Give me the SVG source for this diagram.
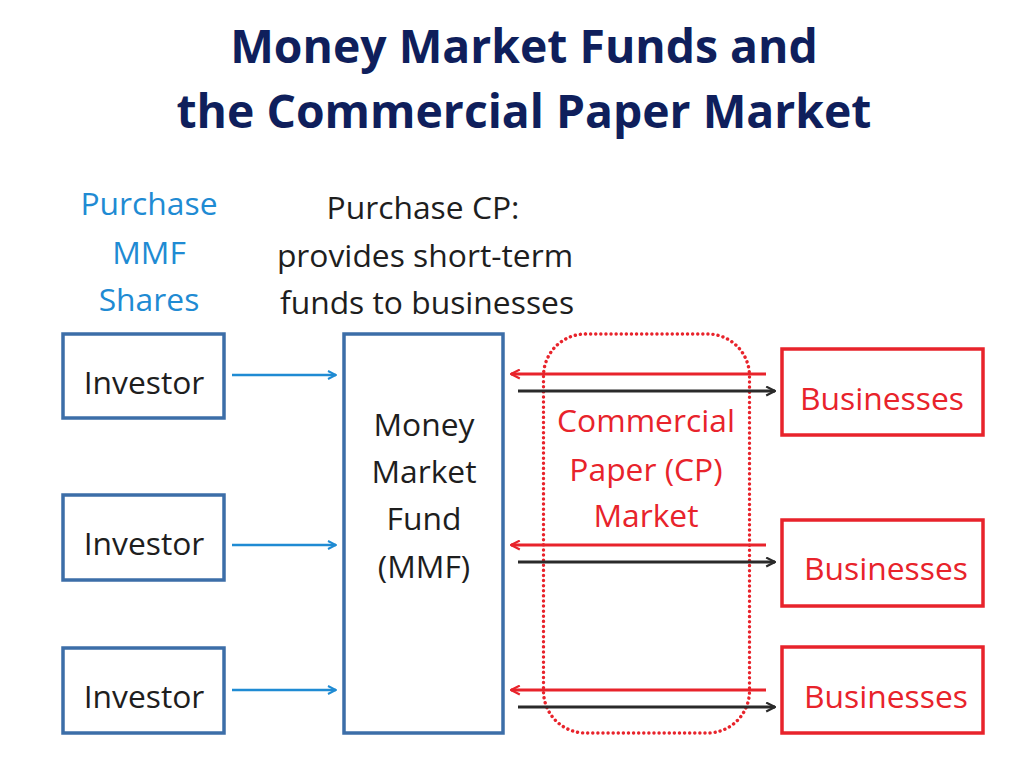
<svg xmlns="http://www.w3.org/2000/svg" width="1024" height="761" viewBox="0 0 1024 761">
<defs>
<style>
.title{font-family:"Open Sans","DejaVu Sans",sans-serif;font-weight:bold;font-size:46.3px;fill:#0f1f5c;text-anchor:middle}
.lbl{font-family:"Open Sans","DejaVu Sans",sans-serif;font-size:31.8px;text-anchor:middle}
.blue{fill:#1f8bd3}
.dark{fill:#1e1e1e}
.red{fill:#e8232b}
.bbox{fill:#fff;stroke:#3c6ea8;stroke-width:3.5}
.rbox{fill:#fff;stroke:#e8232b;stroke-width:3.5}
.barrow{stroke:#1f8bd3;stroke-width:2.5;fill:none}
.rarrow{stroke:#e8232b;stroke-width:2.8;fill:none}
.karrow{stroke:#2a2a2a;stroke-width:2.8;fill:none}
</style>
<marker id="mb" viewBox="0 0 10 10" refX="9" refY="5" markerWidth="10" markerHeight="10" markerUnits="userSpaceOnUse" orient="auto">
<path d="M1,1 L9,5 L1,9" fill="none" stroke="#1f8bd3" stroke-width="2"/>
</marker>
<marker id="mr" viewBox="0 0 10 10" refX="9" refY="5" markerWidth="11" markerHeight="11" markerUnits="userSpaceOnUse" orient="auto">
<path d="M1,1 L9,5 L1,9" fill="none" stroke="#e8232b" stroke-width="2"/>
</marker>
<marker id="mk" viewBox="0 0 10 10" refX="9" refY="5" markerWidth="11" markerHeight="11" markerUnits="userSpaceOnUse" orient="auto">
<path d="M1,1 L9,5 L1,9" fill="none" stroke="#2a2a2a" stroke-width="2"/>
</marker>
</defs>
<rect width="1024" height="761" fill="#fff"/>
<g id="title">
<text class="title" x="524" y="63">Money Market Funds and</text>
<text class="title" x="524" y="128">the Commercial Paper Market</text>
</g>
<g id="label-purchase-mmf">
<text class="lbl blue" x="149" y="215">Purchase</text>
<text class="lbl blue" x="149" y="264">MMF</text>
<text class="lbl blue" x="149" y="311">Shares</text>
</g>
<g id="label-purchase-cp">
<text class="lbl dark" x="423" y="219">Purchase CP:</text>
<text class="lbl dark" x="425" y="267">provides short-term</text>
<text class="lbl dark" x="427" y="314">funds to businesses</text>
</g>
<g id="cp-market">
<rect x="543.5" y="334" width="206" height="399" rx="42" ry="42" fill="none" stroke="#e8232b" stroke-width="3.4" stroke-dasharray="0.1 5" stroke-linecap="round"/>
<text class="lbl red" x="646" y="432">Commercial</text>
<text class="lbl red" x="646" y="481">Paper (CP)</text>
<text class="lbl red" x="646" y="527">Market</text>
</g>
<g id="investor1">
<rect class="bbox" x="63" y="334" width="161" height="84"/>
<text class="lbl dark" x="144" y="394">Investor</text>
</g>
<g id="investor2">
<rect class="bbox" x="63" y="495" width="161" height="85"/>
<text class="lbl dark" x="144" y="555">Investor</text>
</g>
<g id="investor3">
<rect class="bbox" x="63" y="648" width="161" height="85"/>
<text class="lbl dark" x="144" y="708">Investor</text>
</g>
<g id="mmf">
<rect class="bbox" x="344" y="334" width="159" height="399"/>
<text class="lbl dark" x="424" y="436">Money</text>
<text class="lbl dark" x="424" y="483">Market</text>
<text class="lbl dark" x="424" y="530">Fund</text>
<text class="lbl dark" x="424" y="578">(MMF)</text>
</g>
<g id="businesses1">
<rect class="rbox" x="782" y="349" width="201" height="86"/>
<text class="lbl red" x="882" y="410">Businesses</text>
</g>
<g id="businesses2">
<rect class="rbox" x="782" y="520" width="201" height="86"/>
<text class="lbl red" x="886" y="580">Businesses</text>
</g>
<g id="businesses3">
<rect class="rbox" x="782" y="647" width="201" height="86"/>
<text class="lbl red" x="886" y="708">Businesses</text>
</g>
<g id="connectors">
<line class="barrow" x1="232" y1="375" x2="336" y2="375" marker-end="url(#mb)"/>
<line class="barrow" x1="232" y1="545" x2="336" y2="545" marker-end="url(#mb)"/>
<line class="barrow" x1="232" y1="690" x2="336" y2="690" marker-end="url(#mb)"/>
<line class="rarrow" x1="766" y1="374" x2="511" y2="374" marker-end="url(#mr)"/>
<line class="karrow" x1="518" y1="391" x2="775" y2="391" marker-end="url(#mk)"/>
<line class="rarrow" x1="766" y1="545" x2="511" y2="545" marker-end="url(#mr)"/>
<line class="karrow" x1="518" y1="562" x2="775" y2="562" marker-end="url(#mk)"/>
<line class="rarrow" x1="766" y1="690" x2="511" y2="690" marker-end="url(#mr)"/>
<line class="karrow" x1="518" y1="707" x2="775" y2="707" marker-end="url(#mk)"/>
</g>
</svg>
